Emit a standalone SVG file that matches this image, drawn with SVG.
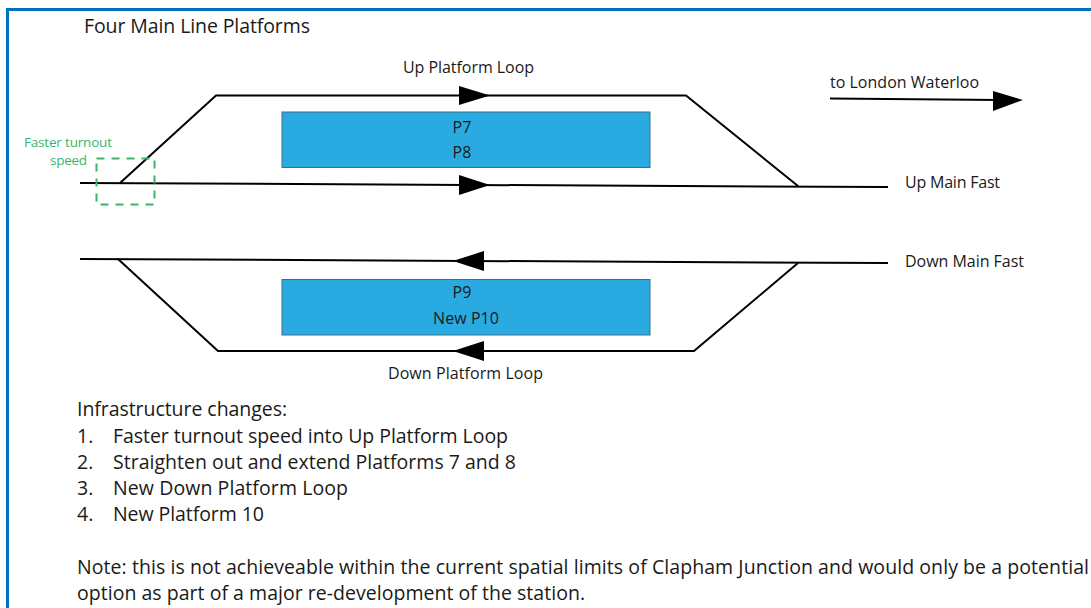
<svg xmlns="http://www.w3.org/2000/svg" width="1091" height="608" viewBox="0 0 1091 608">
<style>
text{font-family:"Open Sans","Noto Sans","Liberation Sans",sans-serif;fill:#1a1a1a}
.t{font-size:16px}
.b{font-size:19.5px}
.g{font-size:13.5px;fill:#39b56a}
.track{fill:none;stroke:#000;stroke-width:2}
.head{fill:#000}
.plat{fill:#29abe2;stroke:#3a6f8a;stroke-width:1}
</style>
<rect width="1091" height="608" fill="#fff"/>
<path d="M7.500 608V9.500H1091" fill="none" stroke="#0070c0" stroke-width="3"/>
<text x="84" y="33" style="font-size:19.500px" textLength="226">Four Main Line Platforms</text>
<g id="connectors">
<path class="track" d="M120 183L216 95.500H686L798 186"/>
<path class="track" d="M80 183L888 187"/>
<path class="track" d="M80 259L888 263"/>
<path class="track" d="M118 259L218 351H694L798 263"/>
<path class="track" d="M830 98.500L1000 100"/>
<polygon class="head" points="459,86 490,95.500 459,105"/>
<polygon class="head" points="459,175 490,185 459,195"/>
<polygon class="head" points="484,251 453,261 484,271"/>
<polygon class="head" points="484,341 453,351 484,361"/>
<polygon class="head" points="993,91 1023,100 993,111"/>
</g>
<g id="turnout"><rect x="96.500" y="158.500" width="58" height="46" fill="none" stroke="#39b56a" stroke-width="2" stroke-dasharray="8 7"/>
<text class="g" x="24" y="147" textLength="88">Faster turnout</text>
<text class="g" x="50" y="165" textLength="37">speed</text></g>
<g id="p78"><rect class="plat" x="282" y="112" width="368" height="55.500"/>
<text class="t" text-anchor="middle" x="462" y="133">P7</text>
<text class="t" text-anchor="middle" x="462" y="158">P8</text></g>
<g id="p910"><rect class="plat" x="282" y="279.500" width="368" height="55.500"/>
<text class="t" text-anchor="middle" x="462" y="298">P9</text>
<text class="t" x="433" y="324" textLength="66">New P10</text></g>
<text class="t" x="403" y="73" textLength="131">Up Platform Loop</text>
<text class="t" x="388" y="379" textLength="155">Down Platform Loop</text>
<text class="t" x="830" y="88" textLength="149">to London Waterloo</text>
<text class="t" x="905" y="188" textLength="95">Up Main Fast</text>
<text class="t" x="905" y="267" textLength="119">Down Main Fast</text>
<text class="b" x="77" y="416" textLength="210">Infrastructure changes:</text>
<text class="b" x="77" y="443">1.</text><text class="b" x="113" y="443" textLength="395">Faster turnout speed into Up Platform Loop</text>
<text class="b" x="77" y="469">2.</text><text class="b" x="113" y="469" textLength="403">Straighten out and extend Platforms 7 and 8</text>
<text class="b" x="77" y="495">3.</text><text class="b" x="113" y="495" textLength="235">New Down Platform Loop</text>
<text class="b" x="77" y="521">4.</text><text class="b" x="113" y="521" textLength="151">New Platform 10</text>
<text class="b" x="77" y="574" textLength="1012">Note: this is not achieveable within the current spatial limits of Clapham Junction and would only be a potential</text>
<text class="b" x="77" y="600" textLength="508">option as part of a major re-development of the station.</text>
</svg>
